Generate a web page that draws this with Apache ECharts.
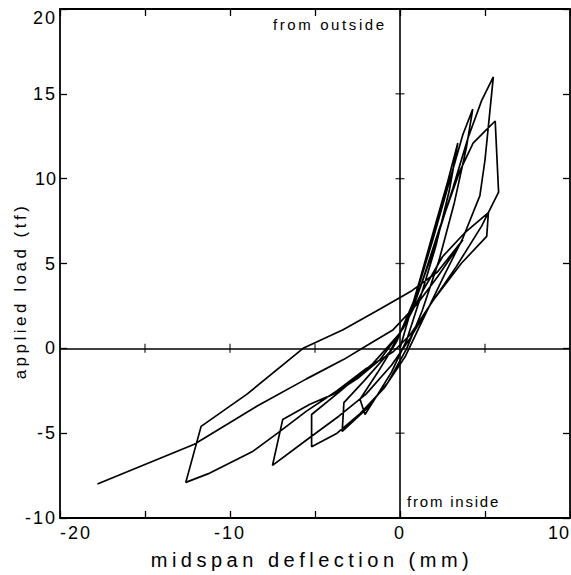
<!DOCTYPE html>
<html>
<head>
<meta charset="utf-8">
<script src="https://cdn.jsdelivr.net/npm/echarts@6/dist/echarts.min.js"></script>
<style>
html,body{margin:0;padding:0;background:#fff;}
#chart{width:571px;height:575px;}
</style>
</head>
<body>
<div id="chart"></div>
<script>
// midspan deflection (mm) along the loading path
const deflection = [
  0, 0.4, 1.1, 2.0, 2.8, 3.4,
  2.9, 2.1, 1.2, 0.4, -0.5, -1.3, -2.06,
  -2.35, -1.3, -0.2, 0.9, 1.9, 2.9, 3.7, 4.28,
  3.9, 3.2, 2.3, 1.3, 0.4, -0.7, -2.0, -3.4,
  -3.3, -2.1, -0.6, 0.7, 1.9, 3.1, 4.0, 4.8, 5.49,
  5.0, 4.7, 3.7, 2.6, 1.3, 0.3, -0.9, -2.4, -3.7, -5.2,
  -5.2, -3.6, -1.6, 0.0, 1.2, 2.3, 3.5, 4.3, 5.0, 5.6,
  5.8,
  4.8, 3.3, 1.8, 0.6, -0.5, -2.0, -3.6, -5.5, -7.5,
  -6.9, -5.3, -3.9, -2.4, -1.2, 0.2, 1.4, 2.5, 3.8, 5.2,
  5.1, 3.6, 2.0, 0.6, -0.4, -2.0, -3.7, -5.5, -7.2, -8.7, -11.3, -12.6,
  -11.7, -9.0, -5.7, -3.35, -1.2, 0.7, 2.2, 3.7,
  2.2, 1.0, -0.4, -1.9, -3.3, -5.5, -8.4, -12.1, -17.8
];
// applied load (tf) along the loading path
const load = [
  0, 1.4, 3.8, 7.0, 9.8, 12.1,
  9.3, 6.0, 3.0, 0.5, -1.4, -2.7, -3.9,
  -3.0, -1.4, 0.4, 3.0, 6.3, 9.8, 12.6, 14.1,
  11.8, 8.6, 5.2, 2.2, 0.0, -2.0, -3.6, -4.9,
  -3.2, -1.9, -0.2, 2.2, 5.6, 9.4, 12.4, 14.6, 16.0,
  11.1, 9.0, 6.5, 4.3, 1.6, -0.5, -2.3, -3.9, -5.0, -5.8,
  -3.9, -2.6, -0.9, 0.9, 3.6, 7.0, 10.4, 12.1, 12.8, 13.4,
  9.2,
  7.2, 4.8, 2.6, 0.6, -1.0, -2.7, -4.0, -5.4, -6.9,
  -4.2, -3.3, -2.7, -1.7, -0.7, 1.2, 3.5, 5.4, 6.8, 8.0,
  6.6, 5.0, 2.9, 0.8, -0.2, -1.2, -2.5, -3.7, -5.0, -6.1, -7.4, -7.9,
  -4.6, -2.7, 0.0, 1.1, 2.3, 3.4, 4.5, 6.4,
  4.2, 2.6, 1.1, 0.2, -0.65, -1.8, -3.4, -5.65, -8.0
];
// tick positions and labels
const xTicks = [-20, -15, -10, -5, 0, 5, 10];
const yTicks = [-10, -5, 0, 5, 10, 15, 20];
const xLabelValues = [-20, -10, 0, 10];

const FONT = "'Liberation Sans', Arial, sans-serif";
const pathData = deflection.map((d, i) => [d, load[i]]);
const zeroLineTicksX = xTicks.slice(1, -1).filter(v => v !== 0).map(v => [v, 0]);
const zeroLineTicksY = yTicks.slice(1, -1).filter(v => v !== 0).map(v => [0, v]);

const chart = echarts.init(document.getElementById('chart'), null, {renderer: 'svg'});
const axisCommon = {
  type: 'value',
  splitLine: {show: false},
  axisLine: {show: true, onZero: false, lineStyle: {color: '#000', width: 1.8}},
  axisTick: {show: true, inside: true, length: 7, lineStyle: {color: '#000', width: 1.3}},
};
chart.setOption({
  animation: false,
  backgroundColor: '#fff',
  grid: {left: 60, right: 1, top: 9, bottom: 57, outerBoundsMode: 'none', containLabel: false},
  xAxis: [
    Object.assign({}, axisCommon, {
      position: 'bottom', min: xTicks[0], max: xTicks[xTicks.length-1], interval: 5,
      axisLabel: {show: true, margin: 6, color: '#000', fontSize: 18, fontFamily: FONT,
        alignMinLabel: 'left', alignMaxLabel: 'right',
        formatter: v => xLabelValues.includes(v) ? String(v) : ''}
    }),
    Object.assign({}, axisCommon, {
      position: 'top', min: xTicks[0], max: xTicks[xTicks.length-1], interval: 5,
      axisLabel: {show: false}
    })
  ],
  yAxis: [
    Object.assign({}, axisCommon, {
      position: 'left', min: yTicks[0], max: yTicks[yTicks.length-1], interval: 5,
      axisLabel: {show: true, margin: 3, color: '#000', fontSize: 18, fontFamily: FONT,
        verticalAlignMaxLabel: 'top'}
    }),
    Object.assign({}, axisCommon, {
      position: 'right', min: yTicks[0], max: yTicks[yTicks.length-1], interval: 5,
      axisLabel: {show: false}
    })
  ],
  series: [
    {
      type: 'line', data: pathData, showSymbol: false, symbol: 'none',
      lineStyle: {color: '#000', width: 1.7}, silent: true, z: 3,
      markLine: {
        silent: true, symbol: 'none', label: {show: false},
        lineStyle: {color: '#000', width: 1.6, type: 'solid'},
        data: [{xAxis: 0}, {yAxis: 0}]
      }
    },
    {
      type: 'scatter', data: zeroLineTicksX, symbol: 'rect', symbolSize: [1.3, 9],
      itemStyle: {color: '#000'}, silent: true
    },
    {
      type: 'scatter', data: zeroLineTicksY, symbol: 'rect', symbolSize: [9, 1.3],
      itemStyle: {color: '#000'}, silent: true
    }
  ],
  graphic: [
    {type: 'text', left: 273, top: 17, style: {text: 'from outside', font: "15px " + FONT, fill: '#000'}},
    {type: 'text', left: 407, top: 494, style: {text: 'from inside', font: "15px " + FONT, fill: '#000'}},
    {type: 'text', x: 312, y: 560, style: {text: 'midspan deflection (mm)', font: "20px " + FONT, fill: '#000', align: 'center', verticalAlign: 'middle'}},
    {type: 'text', x: 20, y: 291, rotation: Math.PI/2, style: {text: 'applied load (tf)', font: "17px " + FONT, fill: '#000', align: 'center', verticalAlign: 'middle'}}
  ]
});

// plotter-style wide character spacing
const spacing = {
  'midspan deflection (mm)': '4.5px',
  'applied load (tf)': '3.5px',
  'from outside': '2.6px',
  'from inside': '1.8px',
  '10': '1px'
};
function applySpacing() {
  document.querySelectorAll('#chart svg text').forEach(t => {
    const s = spacing[t.textContent];
    t.style.letterSpacing = s || '2px';
  });
}
applySpacing();
chart.on('finished', applySpacing);
</script>
</body>
</html>
